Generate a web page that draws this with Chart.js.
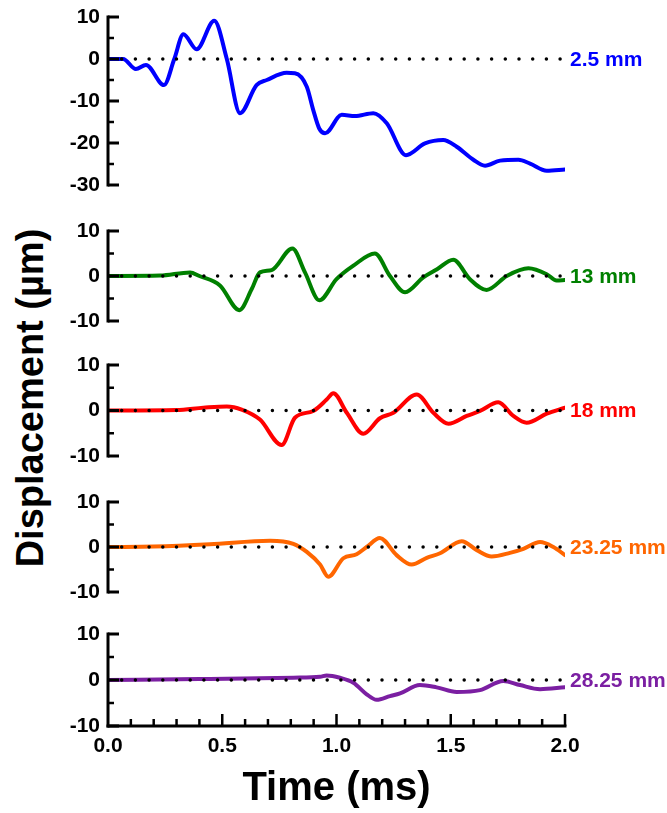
<!DOCTYPE html>
<html>
<head>
<meta charset="utf-8">
<script src="https://cdn.jsdelivr.net/npm/chart.js@4.4.1/dist/chart.umd.min.js"></script>
<style>
  html, body { margin: 0; padding: 0; background: #fff; }
  #wrap { position: relative; width: 667px; height: 813px; overflow: hidden; }
  #wrap canvas { position: absolute; left: 0; }
  #ylabel {
    position: absolute; left: 30px; top: 398px;
    transform: translate(-50%, -50%) rotate(-90deg);
    font: bold 38px "Liberation Sans", Arial, sans-serif;
    white-space: nowrap; color: #000;
  }
</style>
</head>
<body>
<div id="wrap">
  <div id="ylabel">Displacement (µm)</div>
</div>
<script>
// Displacement traces at five distances, time in ms
const blueTimes = [0, 0.066, 0.122, 0.166, 0.245, 0.29, 0.33, 0.388, 0.465, 0.52, 0.578, 0.65, 0.695, 0.782, 0.818, 0.87, 0.898, 0.925, 0.95, 1.023, 1.081, 1.161, 1.22, 1.304, 1.387, 1.467, 1.526, 1.599, 1.65, 1.716, 1.796, 1.847, 1.92, 2.0];
const blueValues = [0, 0, -2.4, -1.4, -6.2, 0, 5.9, 2.3, 9.1, 0, -12.9, -6.2, -5, -3.3, -3.4, -6.6, -12.1, -16.6, -17.7, -13.3, -13.6, -12.9, -15.3, -22.9, -20.1, -19.3, -20.9, -24, -25.4, -24.2, -24, -24.9, -26.6, -26.3];

const greenTimes = [0, 0.228, 0.359, 0.4, 0.49, 0.575, 0.629, 0.665, 0.716, 0.807, 0.862, 0.925, 1.0, 1.074, 1.168, 1.234, 1.3, 1.38, 1.44, 1.511, 1.584, 1.657, 1.745, 1.84, 1.92, 1.963, 2.0];
const greenValues = [0, 0.1, 0.8, 0, -2.1, -7.6, -2.9, 0.8, 1.3, 6.1, 0.8, -5.4, -0.7, 2.3, 5.0, 0, -3.6, -0.3, 1.5, 3.6, -0.7, -3.1, 0, 1.7, 0.4, -1.0, -0.9];

const redTimes = [0, 0.3, 0.417, 0.52, 0.585, 0.665, 0.76, 0.818, 0.898, 0.957, 0.986, 1.045, 1.117, 1.19, 1.249, 1.351, 1.424, 1.49, 1.57, 1.628, 1.708, 1.774, 1.832, 1.92, 2.0];
const redValues = [0, 0.1, 0.6, 0.9, 0.2, -2, -7.6, -1.6, -0.1, 2.4, 3.8, -0.5, -5.1, -1.7, -0.5, 3.5, -0.5, -2.9, -1.2, -0.1, 1.8, -1.2, -2.7, -0.7, 0.6];

const orangeTimes = [0, 0.2, 0.446, 0.709, 0.811, 0.87, 0.928, 0.964, 1.03, 1.088, 1.132, 1.19, 1.263, 1.329, 1.395, 1.453, 1.548, 1.614, 1.679, 1.759, 1.818, 1.891, 1.949, 2.0];
const orangeValues = [0, 0.1, 0.6, 1.4, 0.7, -1.1, -3.9, -6.6, -2.5, -1.6, 0, 2.0, -1.8, -3.9, -2.4, -1.4, 1.3, -0.7, -2.1, -1.3, -0.4, 1.1, 0, -1.8];

const purpleTimes = [0, 0.4, 0.811, 0.928, 0.957, 1.015, 1.074, 1.132, 1.176, 1.234, 1.278, 1.365, 1.438, 1.526, 1.628, 1.73, 1.803, 1.891, 2.0];
const purpleValues = [0, 0.2, 0.5, 0.7, 1.0, 0.5, -0.6, -3.1, -4.3, -3.5, -2.9, -1.1, -1.6, -2.6, -2.2, -0.2, -1.1, -2.0, -1.6];

const seriesLabels = ["2.5 mm", "13 mm", "18 mm", "23.25 mm", "28.25 mm"];
const seriesColors = ["#0000ff", "#008000", "#ff0000", "#ff6600", "#7b1fa2"];

const xTicks = [0, 0.5, 1, 1.5, 2];
const yTicksTall = [-30, -20, -10, 0, 10];
const yTicksShort = [-10, 0, 10];

const FONT = "'Liberation Sans', Arial, sans-serif";

// pixel layout of each panel (plot area top/bottom)
const panels = [
  { times: blueTimes, values: blueValues, ticks: yTicksTall, top: 17, bottom: 185 },
  { times: greenTimes, values: greenValues, ticks: yTicksShort, top: 231, bottom: 321 },
  { times: redTimes, values: redValues, ticks: yTicksShort, top: 365, bottom: 456 },
  { times: orangeTimes, values: orangeValues, ticks: yTicksShort, top: 502, bottom: 592 },
  { times: purpleTimes, values: purpleValues, ticks: yTicksShort, top: 634, bottom: 726 },
];

// Prism-style axes: thick lines, ticks pointing into the plot, series label at right
const prismAxes = {
  id: "prismAxes",
  afterDraw(chart, args, opts) {
    const ctx = chart.ctx;
    const xs = chart.scales.x;
    const ys = chart.scales.y;
    const area = chart.chartArea;
    ctx.save();
    ctx.strokeStyle = "#000";
    ctx.lineCap = "butt";

    // y axis
    ctx.lineWidth = 3;
    ctx.beginPath();
    ctx.moveTo(area.left, area.top - 1.5);
    ctx.lineTo(area.left, area.bottom + 1.5);
    ctx.stroke();
    for (let v = ys.min; v <= ys.max; v += 5) {
      const y = ys.getPixelForValue(v);
      const major = v % 10 === 0;
      ctx.lineWidth = major ? 3 : 2.5;
      ctx.beginPath();
      ctx.moveTo(area.left, y);
      ctx.lineTo(area.left + (major ? 11 : 6), y);
      ctx.stroke();
    }

    // x axis only on the bottom panel
    if (opts.showX) {
      ctx.lineWidth = 3;
      ctx.beginPath();
      ctx.moveTo(area.left - 1.5, area.bottom);
      ctx.lineTo(area.right + 1.5, area.bottom);
      ctx.stroke();
      for (let i = 1; i <= 20; i++) {
        const v = i / 10;
        const x = xs.getPixelForValue(v);
        const major = i % 5 === 0;
        ctx.lineWidth = 2.5;
        ctx.beginPath();
        ctx.moveTo(x, area.bottom);
        ctx.lineTo(x, area.bottom - (major ? 12 : 7));
        ctx.stroke();
      }
    }

    // series name next to the zero line
    ctx.fillStyle = opts.color;
    ctx.font = "bold 21px " + FONT;
    ctx.textAlign = "left";
    ctx.textBaseline = "middle";
    ctx.fillText(opts.label, xs.getPixelForValue(2) + 5, ys.getPixelForValue(0) + 1);
    ctx.restore();
  },
};

const wrap = document.getElementById("wrap");

panels.forEach((p, i) => {
  const isLast = i === panels.length - 1;
  const padTop = 24;
  const canvasTop = p.top - padTop;
  const canvasHeight = isLast ? 813 - canvasTop : p.bottom - p.top + padTop * 2;
  const xHeight = isLast ? canvasHeight - padTop - (p.bottom - p.top) : 0;

  const canvas = document.createElement("canvas");
  canvas.width = 667;
  canvas.height = canvasHeight;
  canvas.style.top = canvasTop + "px";
  wrap.appendChild(canvas);

  new Chart(canvas.getContext("2d"), {
    type: "line",
    data: {
      datasets: [
        {
          data: [{ x: 0, y: 0 }, { x: 2, y: 0 }],
          borderColor: "#000",
          borderWidth: 3.5,
          borderDash: [0, 13.7],
          borderCapStyle: "round",
          pointRadius: 0,
          order: 0,
        },
        {
          data: p.times.map((t, k) => ({ x: t, y: p.values[k] })),
          borderColor: seriesColors[i],
          borderWidth: 4,
          borderJoinStyle: "round",
          borderCapStyle: "round",
          pointRadius: 0,
          cubicInterpolationMode: "monotone",
          order: 1,
        },
      ],
    },
    options: {
      responsive: false,
      animation: false,
      layout: {
        padding: { top: padTop, bottom: isLast ? 0 : padTop, left: 0, right: 102 },
      },
      plugins: {
        legend: { display: false },
        tooltip: { enabled: false },
        prismAxes: { label: seriesLabels[i], color: seriesColors[i], showX: isLast },
      },
      scales: {
        x: {
          type: "linear",
          min: 0,
          max: 2,
          display: isLast,
          afterFit: (s) => { s.height = xHeight; },
          afterBuildTicks: (s) => { s.ticks = xTicks.map((v) => ({ value: v })); },
          grid: { display: false, drawTicks: false },
          border: { display: false },
          ticks: {
            color: "#000",
            font: { family: FONT, size: 21, weight: "bold" },
            padding: 8,
            maxRotation: 0,
            autoSkip: false,
            callback: (v) => Number(v).toFixed(1),
          },
          title: {
            display: true,
            text: "Time (ms)",
            color: "#000",
            font: { family: FONT, size: 40, weight: "bold" },
            padding: 0,
          },
        },
        y: {
          min: p.ticks[0],
          max: p.ticks[p.ticks.length - 1],
          afterFit: (s) => { s.width = 108; },
          afterBuildTicks: (s) => { s.ticks = p.ticks.map((v) => ({ value: v })); },
          grid: { display: false, drawTicks: false },
          border: { display: false },
          ticks: {
            color: "#000",
            font: { family: FONT, size: 21, weight: "bold" },
            padding: 8,
          },
        },
      },
    },
    plugins: [prismAxes],
  });
});
</script>
</body>
</html>
